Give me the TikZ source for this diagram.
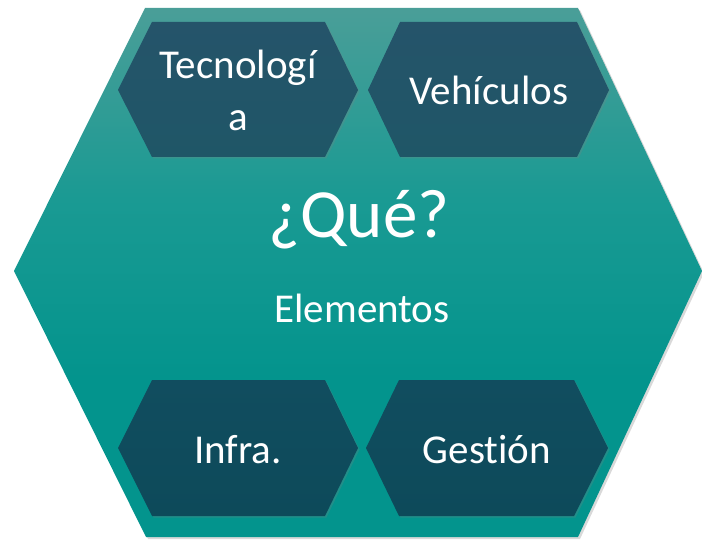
\documentclass[tikz,border=0pt]{standalone}
\usepackage{fontspec}
\setmainfont[Ligatures=NoCommon]{Carlito}
\usetikzlibrary{shadows}
\definecolor{bigtop}{HTML}{4A9E98}
\definecolor{bigmid}{HTML}{1A9A93}
\definecolor{bigbot}{HTML}{03948D}
\definecolor{hextop}{HTML}{25546A}
\definecolor{hexmid}{HTML}{1F5667}
\definecolor{lowtop}{HTML}{114D5F}
\definecolor{lowbot}{HTML}{0D4A5A}
\pgfdeclareverticalshading{bigsh}{100bp}{color(0bp)=(bigbot); color(25bp)=(bigbot); color(40bp)=(bigbot); color(57bp)=(bigmid); color(75bp)=(bigtop); color(100bp)=(bigtop)}
\tikzset{
  bighex/.style={shading=bigsh,
    drop shadow={opacity=0.3, shadow xshift=2pt, shadow yshift=-2pt}},
  uphex/.style={top color=hextop, bottom color=hexmid,
    drop shadow={opacity=0.25, shadow xshift=1.5pt, shadow yshift=-1.5pt}},
  lowhex/.style={top color=lowtop, bottom color=lowbot,
    drop shadow={opacity=0.25, shadow xshift=1.5pt, shadow yshift=-1.5pt}},
  lbl/.style={text=white, inner sep=0pt, font=\fontsize{41}{52}\selectfont},
}
\begin{document}
\begin{tikzpicture}[x=1pt,y=-1pt]
\useasboundingbox (0,0) rectangle (702,540);
% big hexagon
\path[bighex] (145,8) -- (578,8) -- (702,271) -- (578,537) -- (146,537) -- (14,271) -- cycle;
% small hexagons
\path[uphex] (118,90) -- (152,22) -- (325,22) -- (358,90) -- (325,157) -- (152,157) -- cycle;
\path[uphex] (368,90) -- (400,22) -- (577,22) -- (609,90) -- (577,157) -- (400,157) -- cycle;
\path[lowhex] (118,448) -- (152,380) -- (325,380) -- (358,448) -- (325,516) -- (152,516) -- cycle;
\path[lowhex] (366,448) -- (399,380) -- (574,380) -- (608,448) -- (574,516) -- (399,516) -- cycle;
% labels
\node[lbl, align=center] (tec) at (238,90.5) {Tecnologí\\a};
\node[lbl, anchor=base] (veh) at (489,105) {Vehículos};
\node[lbl, anchor=base] (inf) at (238,463) {Infra.};
\node[lbl, anchor=base] (ges) at (487,463) {Gestión};
\node[lbl, anchor=base, font=\fontsize{69}{80}\selectfont] (que) at (359,238) {¿Qué?};
\node[lbl, anchor=base] (ele) at (362,323) {Elementos};
\end{tikzpicture}
\end{document}
